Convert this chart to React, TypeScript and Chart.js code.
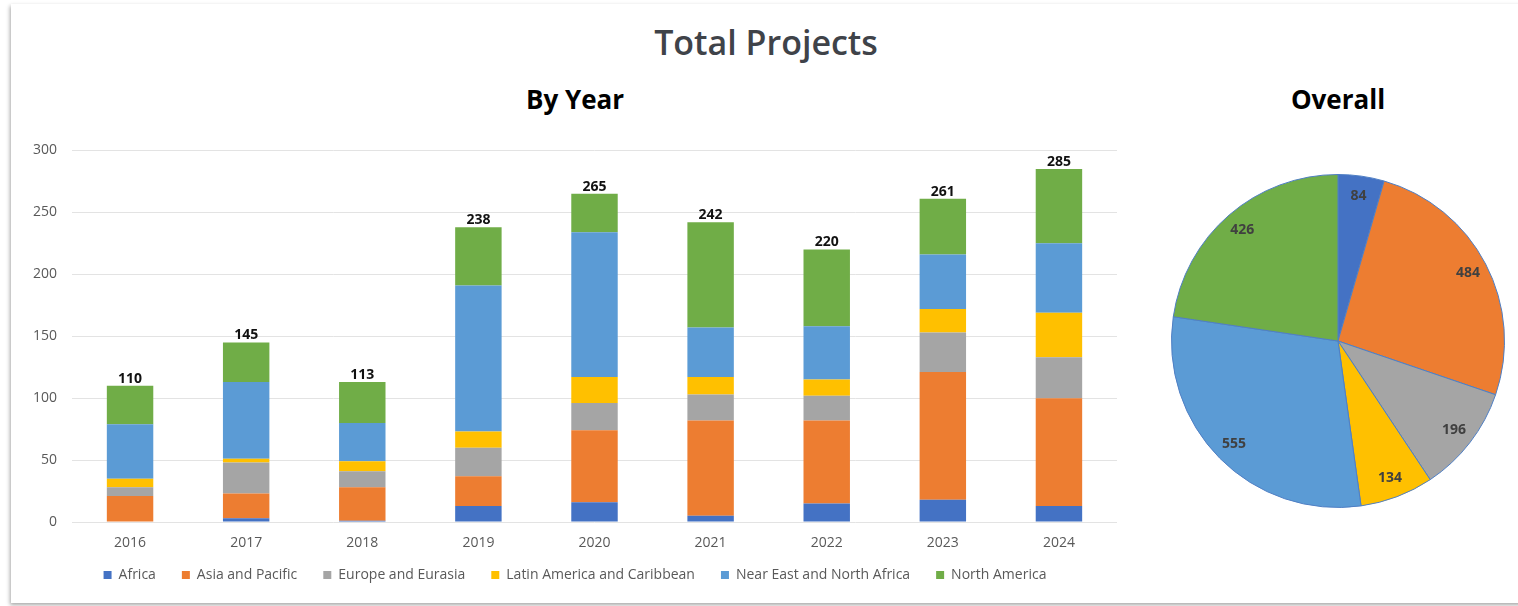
import React, { useEffect, useRef } from "react";
import { Chart, registerables } from "chart.js";

Chart.register(...registerables);

const years = ["2016", "2017", "2018", "2019", "2020", "2021", "2022", "2023", "2024"];
const regions = [
  "Africa",
  "Asia and Pacific",
  "Europe and Eurasia",
  "Latin America and Caribbean",
  "Near East and North Africa",
  "North America",
];
const africa = [0, 3, 1, 13, 16, 5, 15, 18, 13];
const asiaPacific = [21, 20, 27, 24, 58, 77, 67, 103, 87];
const europeEurasia = [7, 25, 13, 23, 22, 21, 20, 32, 33];
const latinAmerica = [7, 3, 8, 13, 21, 14, 13, 19, 36];
const nearEast = [44, 62, 31, 118, 117, 40, 43, 44, 56];
const northAmerica = [31, 32, 33, 47, 31, 85, 62, 45, 60];
const overall = [84, 484, 196, 134, 555, 426];
const colors = ["#4472C4", "#ED7D31", "#A5A5A5", "#FFC000", "#5B9BD5", "#70AD47"];

const FONT = "'Open Sans', 'DejaVu Sans', sans-serif";
const LEGEND_PAD = 26;

const totalsPlugin = {
  id: "totals",
  afterDatasetsDraw(chart: any) {
    const ctx = chart.ctx;
    const yScale = chart.scales.y;
    const meta0 = chart.getDatasetMeta(0);
    ctx.save();
    ctx.font = `bold 14px ${FONT}`;
    ctx.fillStyle = "#111111";
    ctx.textAlign = "center";
    ctx.textBaseline = "alphabetic";
    chart.data.labels.forEach((_: any, i: number) => {
      let total = 0;
      chart.data.datasets.forEach((ds: any) => (total += ds.data[i]));
      const x = meta0.data[i].x;
      const y = yScale.getPixelForValue(total);
      ctx.fillText(String(total), x, y - 3);
    });
    ctx.restore();
  },
};

// pull the legend row up so it sits just under the year labels
const legendShiftPlugin = {
  id: "legendShift",
  afterLayout(chart: any) {
    const lg = chart.legend;
    if (!lg) return;
    const targetTop = chart.chartArea.bottom + 52 - LEGEND_PAD - 6;
    const dy = lg.top - targetTop;
    lg.top -= dy;
    lg.bottom -= dy;
  },
};

const pieLabelsPlugin = {
  id: "pieLabels",
  afterDatasetsDraw(chart: any) {
    const ctx = chart.ctx;
    const meta = chart.getDatasetMeta(0);
    const ds = chart.data.datasets[0];
    ctx.save();
    ctx.font = `bold 14px ${FONT}`;
    ctx.fillStyle = "#404040";
    ctx.textAlign = "center";
    ctx.textBaseline = "middle";
    meta.data.forEach((arc: any, i: number) => {
      const mid = (arc.startAngle + arc.endAngle) / 2;
      const r = arc.outerRadius * 0.88;
      ctx.fillText(String(ds.data[i]), arc.x + Math.cos(mid) * r, arc.y + Math.sin(mid) * r);
    });
    ctx.restore();
  },
};

export default function App() {
  const barRef = useRef<HTMLCanvasElement>(null);
  const pieRef = useRef<HTMLCanvasElement>(null);

  useEffect(() => {
    const series = [africa, asiaPacific, europeEurasia, latinAmerica, nearEast, northAmerica];
    const bar = new Chart(barRef.current!, {
      type: "bar",
      data: {
        labels: years,
        datasets: series.map((d, i) => ({
          label: regions[i],
          data: d,
          backgroundColor: colors[i],
          borderWidth: 0,
          categoryPercentage: 1,
          barPercentage: 0.4,
        })),
      },
      options: {
        animation: false,
        responsive: false,
        maintainAspectRatio: false,
        layout: { padding: { top: 17, right: 13, bottom: 0, left: 33 } },
        plugins: {
          title: { display: false },
          tooltip: { enabled: false },
          legend: {
            position: "bottom",
            labels: {
              boxWidth: 8,
              boxHeight: 8,
              padding: LEGEND_PAD,
              color: "#595959",
              font: { family: FONT, size: 14 },
            },
          },
        },
        scales: {
          x: {
            stacked: true,
            grid: { display: false, drawTicks: false },
            border: { display: false },
            ticks: { color: "#595959", font: { family: FONT, size: 14 }, padding: 13 },
            afterFit: (s: any) => {
              s.height = 32;
            },
          },
          y: {
            stacked: true,
            min: 0,
            max: 300,
            ticks: { stepSize: 50, color: "#595959", font: { family: FONT, size: 14 }, padding: 15 },
            grid: { color: "#e3e3e3", drawTicks: false, lineWidth: 1 },
            border: { display: false },
            afterFit: (s: any) => {
              s.width = 39;
            },
          },
        },
      },
      plugins: [totalsPlugin, legendShiftPlugin],
    });

    const pie = new Chart(pieRef.current!, {
      type: "pie",
      data: {
        labels: regions,
        datasets: [
          {
            data: overall,
            backgroundColor: colors,
            borderColor: "#4f7fc4",
            borderWidth: 1,
          },
        ],
      },
      options: {
        animation: false,
        responsive: false,
        maintainAspectRatio: false,
        layout: { padding: 0 },
        plugins: { legend: { display: false }, tooltip: { enabled: false } },
      },
      plugins: [pieLabelsPlugin],
    });

    return () => {
      bar.destroy();
      pie.destroy();
    };
  }, []);

  return (
    <div
      style={{
        position: "absolute",
        left: 0,
        top: 0,
        width: 1518,
        height: 606,
        overflow: "hidden",
        background: "#ffffff",
        fontFamily: FONT,
      }}
    >
      <div
        style={{
          position: "absolute",
          left: 11,
          top: 4,
          width: 1530,
          height: 599,
          background: "#ffffff",
          boxShadow: "-1px 2px 4px rgba(0,0,0,0.35)",
        }}
      />
      <div
        style={{
          position: "absolute",
          left: 0,
          top: 18,
          width: 1532,
          textAlign: "center",
          fontSize: 34,
          fontWeight: 600,
          color: "#3f4349",
          lineHeight: "48px",
        }}
      >
        Total Projects
      </div>
      <div
        style={{
          position: "absolute",
          left: 375,
          top: 79,
          width: 400,
          textAlign: "center",
          fontSize: 26,
          fontWeight: 700,
          color: "#000000",
          lineHeight: "40px",
        }}
      >
        By Year
      </div>
      <div
        style={{
          position: "absolute",
          left: 1138,
          top: 79,
          width: 400,
          textAlign: "center",
          fontSize: 26,
          fontWeight: 700,
          color: "#000000",
          lineHeight: "40px",
        }}
      >
        Overall
      </div>
      <canvas
        ref={barRef}
        width={1130}
        height={477}
        style={{ position: "absolute", left: 0, top: 127, width: 1130, height: 477 }}
      />
      <canvas
        ref={pieRef}
        width={334}
        height={334}
        style={{ position: "absolute", left: 1171, top: 174, width: 334, height: 334 }}
      />
    </div>
  );
}
